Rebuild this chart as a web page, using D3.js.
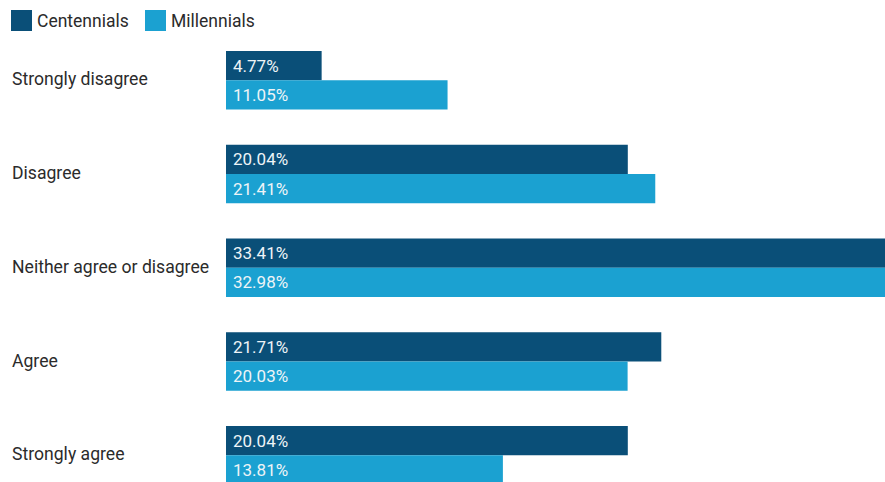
<!DOCTYPE html>
<html>
<head>
<meta charset="utf-8">
<script src="https://cdn.jsdelivr.net/npm/d3@7"></script>
<style>
  html, body { margin: 0; padding: 0; background: #fff; }
  svg { display: block; font-family: Roboto, "Noto Sans", sans-serif; }
</style>
</head>
<body>
<svg id="chart" width="885" height="482"></svg>
<script>
// Survey response shares (%) by generation
const categories = ["Strongly disagree", "Disagree", "Neither agree or disagree", "Agree", "Strongly agree"];
const seriesNames = ["Centennials", "Millennials"];
const centennials = [4.77, 20.04, 33.41, 21.71, 20.04];
const millennials = [11.05, 21.41, 32.98, 20.03, 13.81];
const colors = ["#0a4f78", "#1ba1d1"];

const svg = d3.select("#chart");
const W = 885, H = 482;

const x = d3.scaleLinear().domain([0, 40]).range([0, 802]);
const barLeft = 226;

const y0 = d3.scaleBand().domain(categories).range([51, 484.5]).paddingInner(0.376).paddingOuter(0);
const y1 = d3.scaleBand().domain(seriesNames).range([0, y0.bandwidth()]);
const color = d3.scaleOrdinal().domain(seriesNames).range(colors);

const rows = categories.map((c, i) => ({
  cat: c,
  vals: [
    { key: seriesNames[0], value: centennials[i] },
    { key: seriesNames[1], value: millennials[i] }
  ]
}));

svg.append("defs").append("clipPath").attr("id", "plotClip")
  .append("rect").attr("x", 0).attr("y", 0).attr("width", W).attr("height", H);

const groups = svg.append("g").attr("clip-path", "url(#plotClip)")
  .selectAll("g.group").data(rows).join("g")
  .attr("class", "group")
  .attr("transform", d => `translate(${barLeft},${y0(d.cat)})`);

groups.selectAll("rect").data(d => d.vals).join("rect")
  .attr("x", 0)
  .attr("y", d => y1(d.key))
  .attr("width", d => x(d.value))
  .attr("height", y1.bandwidth())
  .attr("fill", d => color(d.key));

groups.selectAll("text.val").data(d => d.vals).join("text")
  .attr("class", "val")
  .attr("x", 7)
  .attr("y", d => y1(d.key) + y1.bandwidth() / 2)
  .attr("dy", "0.35em")
  .attr("fill", "#eef4f7")
  .attr("font-size", 17)
  .text(d => d.value.toFixed(2) + "%");

// Category labels
svg.append("g").selectAll("text").data(categories).join("text")
  .attr("x", 12)
  .attr("y", d => y0(d) + y0.bandwidth() / 2 - 1)
  .attr("dy", "0.35em")
  .attr("fill", "#2b2b2b")
  .attr("font-size", 17.6)
  .text(d => d);

// Legend
const legendX = [11, 145];
const legend = svg.append("g").selectAll("g").data(seriesNames).join("g")
  .attr("transform", (d, i) => `translate(${legendX[i]},10)`);
legend.append("rect").attr("width", 21).attr("height", 21).attr("fill", d => color(d));
legend.append("text").attr("x", 26).attr("y", 10.5).attr("dy", "0.35em")
  .attr("fill", "#2b2b2b").attr("font-size", 17.5).text(d => d);
</script>
</body>
</html>
